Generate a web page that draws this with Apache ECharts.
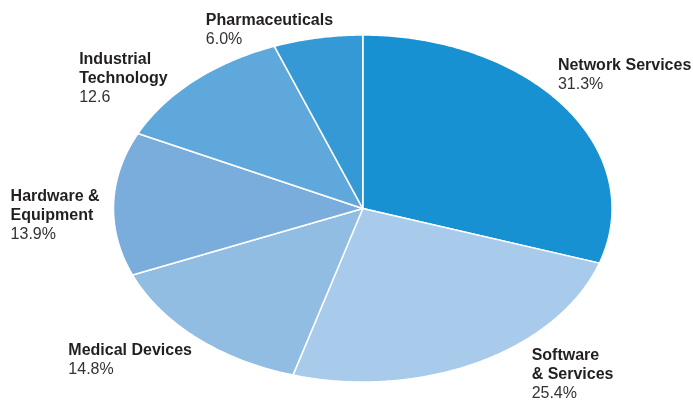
<!DOCTYPE html>
<html>
<head>
<meta charset="utf-8">
<script src="https://cdn.jsdelivr.net/npm/echarts@6/dist/echarts.min.js"></script>
<style>
html,body{margin:0;padding:0;background:#fff;}
#chart{width:693px;height:400px;}
</style>
</head>
<body>
<div id="chart"></div>
<script>
// Data
const categories = ['Network Services', 'Software\n& Services', 'Medical Devices', 'Hardware &\nEquipment', 'Industrial\nTechnology', 'Pharmaceuticals'];
const values = [31.3, 25.4, 14.8, 13.9, 12.6, 6.0];
const valueLabels = ['31.3%', '25.4%', '14.8%', '13.9%', '12.6', '6.0%'];

// Styles
const colors = ['#1891d3', '#a9cbeb', '#92bde3', '#7aaddb', '#5ea8dc', '#3599d6'];
// label top-left offset relative to the slice's mid-point on the rim
const labelOffsets = [[-7, -51], [53, -16], [-128, 3], [-103, -17], [-115, -31], [-112, -27]];

const total = values.reduce((a, b) => a + b, 0);
const cumulative = [];
values.reduce((acc, v, i) => { cumulative[i] = acc; return acc + v; }, 0);

const chart = echarts.init(document.getElementById('chart'), null, { renderer: 'canvas' });

function renderItem(params, api) {
  const i = params.dataIndex;
  const W = api.getWidth(), H = api.getHeight();
  const cx = W * 0.5235, cy = H * 0.5213;
  const rx = W * 0.3597, ry = H * 0.4338;
  const v = api.value(0);
  const a0 = cumulative[i] / total * Math.PI * 2;
  const a1 = (cumulative[i] + v) / total * Math.PI * 2;
  const steps = Math.max(2, Math.ceil((a1 - a0) / 0.01));
  const points = [[cx, cy]];
  for (let k = 0; k <= steps; k++) {
    const a = a0 + (a1 - a0) * k / steps;
    points.push([cx + rx * Math.sin(a), cy - ry * Math.cos(a)]);
  }
  const am = (a0 + a1) / 2;
  const mx = cx + rx * Math.sin(am), my = cy - ry * Math.cos(am);
  const nameLines = categories[i].split('\n').map(s => '{b|' + s + '}');
  const text = nameLines.join('\n') + '\n{v|' + valueLabels[i] + '}';
  return {
    type: 'group',
    children: [
      {
        type: 'polygon',
        shape: { points: points },
        style: { fill: colors[i], stroke: '#ffffff', lineWidth: 1.5, lineJoin: 'round' }
      },
      {
        type: 'text',
        x: mx + labelOffsets[i][0],
        y: my + labelOffsets[i][1],
        style: {
          text: text,
          align: 'left',
          verticalAlign: 'top',
          rich: {
            b: { fontFamily: '"Liberation Sans", Arial, Helvetica, sans-serif', fontWeight: 'bold', fontSize: 16, lineHeight: 19, fill: '#231f20', color: '#231f20' },
            v: { fontFamily: '"Liberation Sans", Arial, Helvetica, sans-serif', fontWeight: 'normal', fontSize: 16, lineHeight: 19, fill: '#333333', color: '#333333' }
          }
        }
      }
    ]
  };
}

chart.setOption({
  animation: false,
  backgroundColor: '#ffffff',
  series: [{
    type: 'custom',
    coordinateSystem: 'none',
    renderItem: renderItem,
    data: values.map((v, i) => ({ name: categories[i].replace('\n', ' '), value: [v, i] }))
  }]
});
</script>
</body>
</html>
